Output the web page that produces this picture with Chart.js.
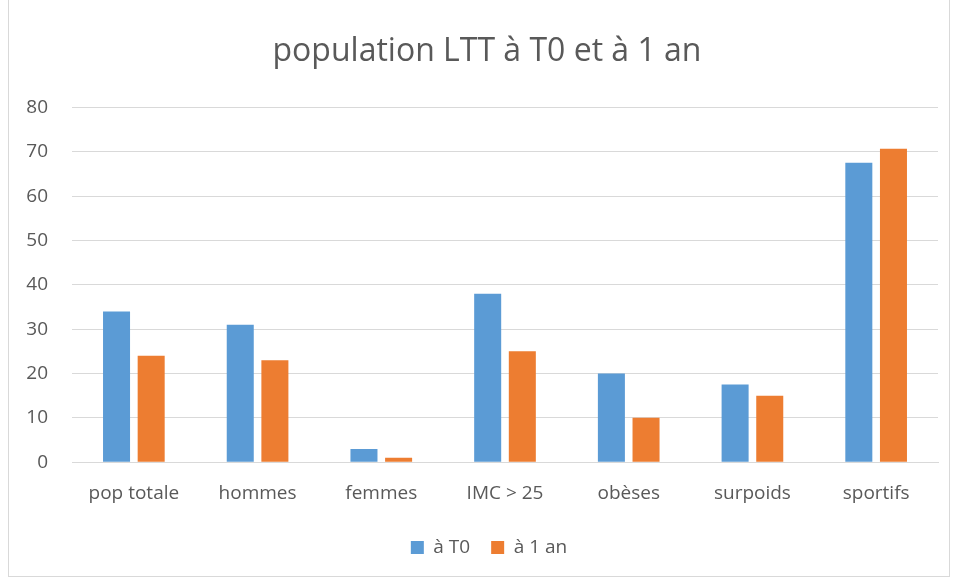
<!DOCTYPE html>
<html>
<head>
<meta charset="utf-8">
<script src="https://cdn.jsdelivr.net/npm/chart.js@4"></script>
<style>
  html, body { margin: 0; padding: 0; background: #fff; }
  #wrap { position: absolute; left: 8px; top: 0; width: 940px; height: 576px; border: 1px solid #d9d9d9; border-top: none; }
  #box { position: absolute; left: 0; top: 0; width: 957px; height: 579px; }
</style>
</head>
<body>
<div id="wrap"></div>
<div id="box"><canvas id="chart"></canvas></div>
<script>
// données
const categories = ['pop totale', 'hommes', 'femmes', 'IMC > 25', 'obèses', 'surpoids', 'sportifs'];
const valeursT0 = [34, 31, 3, 38, 20, 17.5, 67.5];
const valeurs1an = [24, 23, 1, 25, 10, 15, 70.7];
const yTicks = [0, 10, 20, 30, 40, 50, 60, 70, 80];

const textColor = '#595959';
const fontFamily = '"Open Sans", "Noto Sans", sans-serif';

// décale un peu le titre et la légende vers la droite, comme dans Excel
const decalage = {
    id: 'decalage',
    afterLayout(chart) {
        chart.titleBlock.left += 14;
        chart.titleBlock.right += 14;
        chart.legend.left += 16;
        chart.legend.right += 16;
    }
};

const ctx = document.getElementById('chart').getContext('2d');
new Chart(ctx, {
    type: 'bar',
    data: {
        labels: categories,
        datasets: [{
            label: 'à T0',
            data: valeursT0,
            backgroundColor: '#5b9bd5',
            categoryPercentage: 0.56,
            barPercentage: 0.78
        }, {
            label: 'à 1 an',
            data: valeurs1an,
            backgroundColor: '#ed7d31',
            categoryPercentage: 0.56,
            barPercentage: 0.78
        }]
    },
    options: {
        responsive: true,
        maintainAspectRatio: false,
        animation: false,
        layout: { padding: { left: 8, right: 19, top: 18, bottom: 12 } },
        plugins: {
            title: {
                display: true,
                text: 'population LTT à T0 et à 1 an',
                color: textColor,
                font: { family: fontFamily, size: 32, weight: 'normal' },
                padding: { top: 15, bottom: 36 }
            },
            legend: {
                position: 'bottom',
                labels: {
                    color: textColor,
                    font: { family: fontFamily, size: 19 },
                    boxWidth: 13,
                    boxHeight: 13,
                    padding: 21
                }
            },
            tooltip: { enabled: false }
        },
        scales: {
            x: {
                grid: { display: false },
                border: { color: '#d9d9d9' },
                ticks: { color: textColor, font: { family: fontFamily, size: 19 }, padding: 12 }
            },
            y: {
                min: 0,
                max: 80,
                afterBuildTicks: axis => { axis.ticks = yTicks.map(v => ({ value: v })); },
                afterFit: axis => { axis.width = 64; },
                grid: { color: '#d9d9d9', lineWidth: 1, drawTicks: false },
                border: { display: false },
                ticks: { color: textColor, font: { family: fontFamily, size: 19 }, padding: 24 }
            }
        }
    },
    plugins: [decalage]
});
</script>
</body>
</html>
